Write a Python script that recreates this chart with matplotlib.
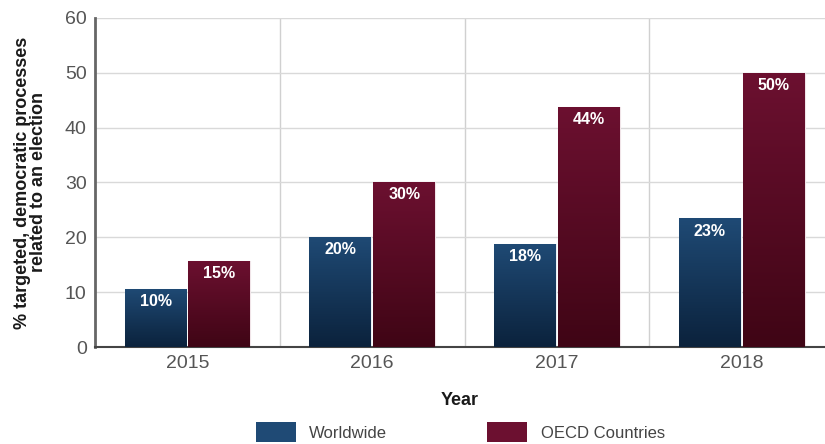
import matplotlib
matplotlib.use("Agg")
import matplotlib.pyplot as plt
import numpy as np
from matplotlib.colors import LinearSegmentedColormap
from matplotlib.patches import Patch

years = ["2015", "2016", "2017", "2018"]
worldwide = [10.6, 20.1, 18.8, 23.5]
oecd = [15.7, 30.1, 43.8, 50.0]
worldwide_labels = ["10%", "20%", "18%", "23%"]
oecd_labels = ["15%", "30%", "44%", "50%"]
series_names = ["Worldwide", "OECD Countries"]

plt.rcParams['font.family'] = ['Liberation Sans Narrow', 'Liberation Sans', 'DejaVu Sans']

fig = plt.figure(figsize=(8.25, 4.44), dpi=100)
ax = fig.add_axes([95/825, 1-347/444, 1-95/825, (347-18)/444])

x = np.arange(len(years))
w = 0.335
blue_top, blue_bot = "#1f4a75", "#0b223c"
red_top, red_bot = "#6c1030", "#3f0515"

def grad_bars(bars, top, bot):
    cmap = LinearSegmentedColormap.from_list("g", [bot, top])
    grad = np.linspace(0, 1, 256).reshape(-1, 1)
    for b in bars:
        x0, y0 = b.get_x(), b.get_y()
        im = ax.imshow(grad, extent=[x0, x0 + b.get_width(), y0, y0 + b.get_height()],
                       origin="lower", aspect="auto", cmap=cmap, zorder=3)
        im.set_clip_path(b)

b1 = ax.bar(x - w/2 - 0.005, worldwide, w, color=blue_top, edgecolor="#e8eef4", linewidth=0.8, zorder=2)
b2 = ax.bar(x + w/2 + 0.005, oecd, w, color=red_top, edgecolor="#f0e4e8", linewidth=0.8, zorder=2)
grad_bars(b1, blue_top, blue_bot)
grad_bars(b2, red_top, red_bot)

for bars, labs in ((b1, worldwide_labels), (b2, oecd_labels)):
    for b, lab in zip(bars, labs):
        ax.text(b.get_x() + b.get_width()/2, b.get_height() - 1.0, lab, ha="center", va="top",
                color="white", fontsize=11.5, fontweight="bold", zorder=5)

ax.set_xlim(-0.5, 3.45)
ax.set_ylim(0, 60)
ax.set_yticks(range(0, 61, 10))
ax.set_xticks(x)
ax.set_xticklabels(years)
ax.tick_params(axis="both", length=0, labelsize=14, labelcolor="#555555")
ax.tick_params(axis="x", pad=6)
ax.tick_params(axis="y", pad=6)

ax.yaxis.grid(True, color="#d9d9d9", linewidth=1, zorder=0)
for xv in [0.5, 1.5, 2.5]:
    ax.axvline(xv, color="#d0d0d0", linewidth=1, zorder=0)
ax.set_axisbelow(True)

for s in ["top", "right"]:
    ax.spines[s].set_visible(False)
ax.spines["left"].set_color("#666666")
ax.spines["left"].set_linewidth(2)
ax.spines["bottom"].set_color("#444444")
ax.spines["bottom"].set_linewidth(1.5)

ax.set_ylabel("% targeted, democratic processes\nrelated to an election", fontsize=13,
              fontweight="bold", color="#1a1a1a", linespacing=0.92)
ax.yaxis.set_label_coords(-0.066, 0.5)
ax.set_xlabel("Year", fontsize=13, fontweight="bold", color="#1a1a1a", labelpad=14)

handles = [Patch(facecolor=blue_top, edgecolor="none"), Patch(facecolor=red_top, edgecolor="none")]
fig.legend(handles, series_names, loc="lower center", bbox_to_anchor=(0.558, -0.03), ncol=2,
           frameon=False, fontsize=12, handlelength=2.4, handleheight=1.5,
           columnspacing=6.0, handletextpad=0.8, labelcolor="#444444")

fig.savefig("out.png", dpi=100)
